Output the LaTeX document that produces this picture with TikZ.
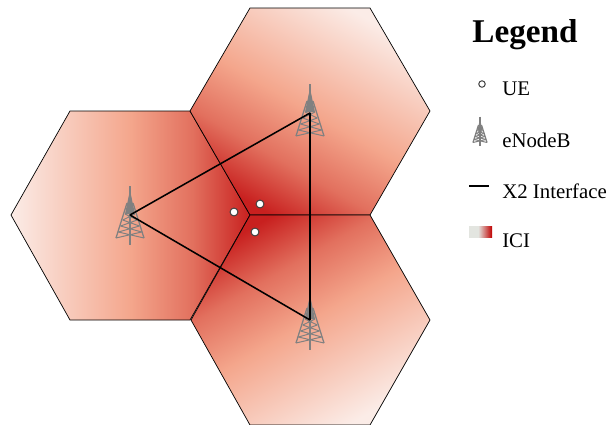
\documentclass[tikz,border=0pt]{standalone}
\usepackage{fontspec}
\setmainfont{Liberation Serif}
\usetikzlibrary{arrows.meta,positioning}
\definecolor{iciwhite}{HTML}{FBECE7}
\definecolor{icisalmon}{HTML}{F4A68C}
\definecolor{icimid}{HTML}{E2705E}
\definecolor{icired}{HTML}{C8201F}
\definecolor{towergray}{HTML}{808080}
\definecolor{legendgray}{HTML}{E3E5E0}
\definecolor{legendred}{HTML}{C00000}
\pgfdeclareverticalshading{icishade}{100bp}{
    color(0bp)=(iciwhite); color(25bp)=(iciwhite); color(50bp)=(icisalmon);
    color(63bp)=(icimid); color(75bp)=(icired); color(100bp)=(icired)}
\pgfdeclareverticalshading{legendshade}{100bp}{
    color(0bp)=(legendgray); color(25bp)=(legendgray); color(45bp)=(legendgray);
    color(75bp)=(legendred); color(100bp)=(legendred)}
\tikzset{
    cellborder/.style={
        draw=black,
        line width=0.5pt,
        shading=icishade
    },
    x2link/.style={
        draw=black,
        line width=1.1pt
    },
    uenode/.style={
        circle,
        draw=black!75,
        fill=white,
        line width=0.7pt,
        minimum size=5.6pt,
        inner sep=0pt
    },
    legendtext/.style={
        anchor=west,
        inner sep=0pt,
        font=\fontsize{14.8pt}{16pt}\selectfont
    },
    pics/enbtower/.style={
        code={
            \draw[towergray,line width=1pt] (0,-29) -- (0,30);
            \fill[towergray] (0,-25) -- (-5,-1) -- (5,-1) -- cycle;
            \draw[towergray,line width=0.9pt] (-3,-12) -- (-14,23) (3,-12) -- (14,23);
            \foreach \ya/\wa/\yb/\wb in {-1/5/5/7.2,5/7.2/11/9.4,11/9.4/17/11.6,17/11.6/23/14}{
                \draw[towergray,line width=0.7pt] (-\wa,\ya) -- (\wb,\yb) (\wa,\ya) -- (-\wb,\yb);
            }
        }
    }
}
\begin{document}
\begin{tikzpicture}[x=0.025cm,y=-0.025cm]
    \useasboundingbox (0,0) rectangle (608,424);

    % cells
    \shade[cellborder,shading angle=270]
        (11,215) -- (70,111) -- (190,111) -- (250,215) -- (190,320) -- (70,320) -- cycle;
    \shade[cellborder,shading angle=150]
        (190,111) -- (250,215) -- (370,215) -- (430,111) -- (370,8) -- (250,8) -- cycle;
    \shade[cellborder,shading angle=30]
        (250,215) -- (370,215) -- (430,320) -- (370,425) -- (250,425) -- (191,320) -- cycle;

    % towers
    \pic at (130,215) {enbtower};
    \pic at (310,113) {enbtower};
    \pic at (310,320) {enbtower};

    \node[coordinate] (enbLeft) at (130,215) {};
    \node[coordinate] (enbTop) at (310,113) {};
    \node[coordinate] (enbBottom) at (310,320) {};

    \draw[x2link] (enbLeft) -- (enbTop);
    \draw[x2link] (enbTop) -- (enbBottom);
    \draw[x2link] (enbLeft) -- (enbBottom);

    \node[uenode] (ueLeft) at (234,212) {};
    \node[uenode] (ueTop) at (260,204) {};
    \node[uenode] (ueBottom) at (255,232) {};

    % legend
    \node[inner sep=0pt,font=\fontsize{23.6pt}{26pt}\selectfont\bfseries] (legendTitle) at (525,35) {Legend};

    \node[uenode,minimum size=4.6pt] (legendUe) at (482,84) {};
    \node[legendtext] (legendUeText) at (502,89) {UE};

    \pic[scale=0.5] at (480,131) {enbtower};
    \node[legendtext] (legendEnbText) at (502,140) {eNodeB};

    \node[coordinate] (legendLinkA) at (469,186) {};
    \node[coordinate] (legendLinkB) at (489,186) {};
    \draw[x2link] (legendLinkA) -- (legendLinkB);
    \node[legendtext] (legendLinkText) at (502,191) {X2 Interface};

    \shade[shading=legendshade,shading angle=270] (469,226) rectangle (492,237);
    \node[legendtext] (legendIciText) at (502,241) {ICI};
\end{tikzpicture}
\end{document}
